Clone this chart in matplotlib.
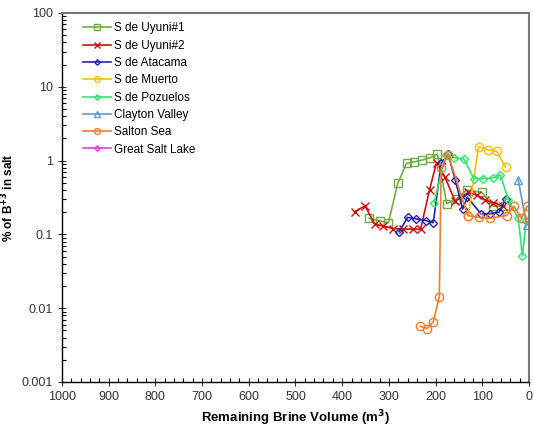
import matplotlib.pyplot as plt
from matplotlib.ticker import MultipleLocator, LogLocator, FixedLocator

plt.rcParams['font.family'] = ['Liberation Sans', 'DejaVu Sans']

# ==== Datos ====
uyuni1_v = [342, 320, 301, 281, 262, 246, 228, 211, 196, 176, 155, 133, 101, 76, 51]
uyuni1_b = [0.165, 0.153, 0.144, 0.49, 0.92, 0.96, 1.02, 1.1, 1.22, 0.26, 0.3, 0.4, 0.37, 0.24, 0.24]

uyuni2_v = [373, 351, 330, 312, 291, 269, 249, 232, 213, 198, 180, 158, 130, 112, 94, 76, 55]
uyuni2_b = [0.203, 0.243, 0.137, 0.13, 0.12, 0.118, 0.118, 0.118, 0.40, 0.94, 0.6, 0.28, 0.37, 0.34, 0.29, 0.27, 0.24]

atacama_v = [278, 260, 241, 221, 205, 188, 173, 158, 142, 132, 103, 84, 64, 50]
atacama_b = [0.109, 0.17, 0.162, 0.154, 0.144, 0.92, 1.22, 0.55, 0.22, 0.32, 0.19, 0.19, 0.2, 0.30]

muerto_v = [130, 108, 88, 69, 50]
muerto_b = [0.18, 1.55, 1.4, 1.33, 0.81]

pozuelos_v = [203, 178, 160, 139, 118, 98, 78, 61, 44, 23, 14, 6]
pozuelos_b = [0.27, 1.2, 1.1, 1.05, 0.57, 0.57, 0.58, 0.64, 0.29, 0.165, 0.051, 0.15]

clayton_v = [23, 5]
clayton_b = [0.55, 0.135]

salton_v = [233, 219, 205, 192, 188, 173, 131, 108, 84, 48, 32, 16, 4]
salton_b = [0.0057, 0.0053, 0.0065, 0.0143, 0.8, 1.2, 0.18, 0.17, 0.165, 0.18, 0.24, 0.165, 0.24]

gsl_v = []
gsl_b = []

series = [
    ("S de Uyuni#1", uyuni1_v, uyuni1_b, "#70AD47", "s", 6),
    ("S de Uyuni#2", uyuni2_v, uyuni2_b, "#CC1111", "x", 6),
    ("S de Atacama", atacama_v, atacama_b, "#2222AA", "D", 4),
    ("S de Muerto", muerto_v, muerto_b, "#FFC000", "o", 6),
    ("S de Pozuelos", pozuelos_v, pozuelos_b, "#33E36F", "D", 4),
    ("Clayton Valley", clayton_v, clayton_b, "#5B9BD5", "^", 6),
    ("Salton Sea", salton_v, salton_b, "#ED7D31", "o", 6),
    ("Great Salt Lake", gsl_v, gsl_b, "#E040E0", "D", 4),
]

fig = plt.figure(figsize=(5.34, 4.29), dpi=100)
ax = fig.add_axes([0.116, 0.1096, 0.8746, 0.8601])

for nombre, v, b, col, mk, ms in series:
    ax.plot(v, b, color=col, marker=mk, markersize=ms, markerfacecolor='none',
            markeredgewidth=1.0, linewidth=1.2, label=nombre)

ax.set_yscale('log')
ax.set_ylim(0.001, 100)
ax.set_xlim(1000, 0)

ax.xaxis.set_major_locator(MultipleLocator(100))
ax.xaxis.set_minor_locator(MultipleLocator(20))
ax.yaxis.set_major_locator(FixedLocator([0.001, 0.01, 0.1, 1, 10, 100]))
ax.yaxis.set_minor_locator(LogLocator(base=10, subs=range(2, 10), numticks=20))
ax.set_yticklabels(['0.001', '0.01', '0.1', '1', '10', '100'])

ax.tick_params(which='major', direction='inout', length=6, width=0.8, labelsize=9, colors='#333333')
ax.tick_params(which='minor', direction='in', length=3, width=0.8)
ax.tick_params(top=False, right=False, which='both')

for s in ['top', 'right']:
    ax.spines[s].set_color('#777777')
    ax.spines[s].set_linewidth(1.5)
for s in ['left', 'bottom']:
    ax.spines[s].set_color('black')
    ax.spines[s].set_linewidth(1.0)

ax.set_xlabel(r'Remaining Brine Volume (m$^{\mathbf{3}}$)', fontsize=9.5, fontweight='bold')
ax.set_ylabel(r'% of B$^{\mathbf{+3}}$ in salt', fontsize=8.5, fontweight='bold')

ax.legend(loc='upper left', frameon=False, fontsize=8.5, handlelength=2.4,
          labelspacing=0.45, borderaxespad=0.4, bbox_to_anchor=(0.025, 1.0),
          markerscale=0.7, handletextpad=0.2)

fig.savefig('out.png', dpi=100)
